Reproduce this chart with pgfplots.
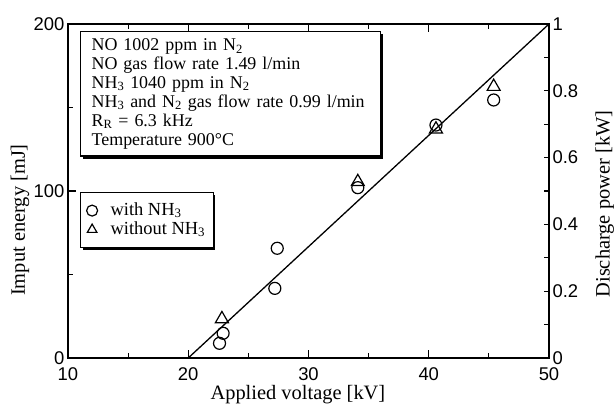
\documentclass[border=0pt]{standalone}
\usepackage{fontspec}
\setmainfont{Liberation Serif}
\newfontfamily\sansnum{Liberation Sans}
\usepackage{pgfplots}
\pgfplotsset{compat=1.18}
\usetikzlibrary{shadows}

\begin{document}
\begin{tikzpicture}
\path[use as bounding box] (-68bp,-49bp) rectangle (547bp,358bp);
\begin{axis}[
  scale only axis, width=481bp, height=334bp,
  xmin=10, xmax=50, ymin=0, ymax=200,
  xtick={10,20,30,40,50}, minor xtick={15,25,35,45},
  ytick={0,100,200}, minor ytick={50,150},
  ytick pos=left, xtick pos=both,
  tick align=inside,
  major tick length=8bp, minor tick length=5bp,
  axis line style={line width=1.6bp},
  every tick/.style={line width=1.2bp, black},
  /pgf/number format/assume math mode=true,
  tick label style={font=\fontsize{18.5}{18.5}\selectfont\sansnum},
  xticklabel style={yshift=-6bp},
  label style={font=\fontsize{20.5}{20.5}\selectfont},
  xlabel={Applied voltage [kV]},
  ylabel={Imput energy [mJ]},
  xlabel style={at={(axis description cs:0.478,-0.111)}, anchor=center},
  ylabel style={at={(axis description cs:-0.1,0.413)}, anchor=center},
  legend style={at={(rel axis cs:0.025,0.497)}, anchor=north west,
    draw=black, line width=1.2bp, fill=white,
    drop shadow={shadow xshift=2bp, shadow yshift=-2bp, fill=black, opacity=1},
    font=\fontsize{18.5}{18.5}\selectfont, inner xsep=6bp, inner ysep=8.5bp,
    row sep=0bp, column sep=11bp,
    nodes={inner sep=2bp, text height=12bp, text depth=3bp}},
  legend cell align=left,
  legend image code/.code={\draw[mark repeat=2, mark phase=2, #1, mark size=5.5bp]
     plot coordinates {(0bp,0bp) (19bp,0bp) (30bp,0bp)};},
]
\addplot[line width=1.3bp, forget plot] coordinates {(20,0) (50,200)};
\addplot[only marks, mark=o, mark size=6bp, mark options={line width=1.2bp}]
  coordinates {(22.6,8.8) (22.9,14.8) (27.2,41.7) (27.4,65.7) (34.1,102) (40.6,139.5) (45.4,154.5)};
\addlegendentry{with NH\textsubscript{3}}
\addplot[only marks, mark=triangle, mark size=7.5bp, mark options={line width=1.2bp}]
  coordinates {(22.8,23.4) (34.1,105.5) (40.6,137) (45.4,162.5)};
\addlegendentry{without NH\textsubscript{3}}
\node[draw, line width=1.2bp, fill=white,
  drop shadow={shadow xshift=2.5bp, shadow yshift=-2.5bp, fill=black, opacity=1},
  anchor=north west, align=left, text width=278bp, inner xsep=11bp, inner ysep=7bp,
  font=\fontsize{18}{19}\selectfont] at (rel axis cs:0.025,0.979)
  {NO 1002 ppm in N\textsubscript{2}\\
   NO gas flow rate 1.49 l/min\\
   NH\textsubscript{3} 1040 ppm in N\textsubscript{2}\\
   NH\textsubscript{3} and N\textsubscript{2} gas flow rate 0.99 l/min\\
   R\textsubscript{R} = 6.3 kHz\\
   Temperature 900°C};
\end{axis}
\begin{axis}[
  scale only axis, width=481bp, height=334bp,
  xmin=10, xmax=50, ymin=0, ymax=1,
  axis x line=none, axis y line*=right,
  ytick={0,0.2,0.4,0.6,0.8,1}, minor ytick={0.1,0.3,0.5,0.7,0.9},
  yticklabels={0,0.2,0.4,0.6,0.8,1},
  tick align=inside,
  major tick length=5bp, minor tick length=5bp,
  axis line style={line width=1.6bp, -},
  every tick/.style={line width=1.2bp, black},
  tick label style={font=\fontsize{18.5}{18.5}\selectfont\sansnum},
  label style={font=\fontsize{20.5}{20.5}\selectfont},
  ylabel={Discharge power [kW]},
  ylabel style={at={(axis description cs:1.116,0.461)}, anchor=center},
]
\end{axis}
\end{tikzpicture}
\end{document}
